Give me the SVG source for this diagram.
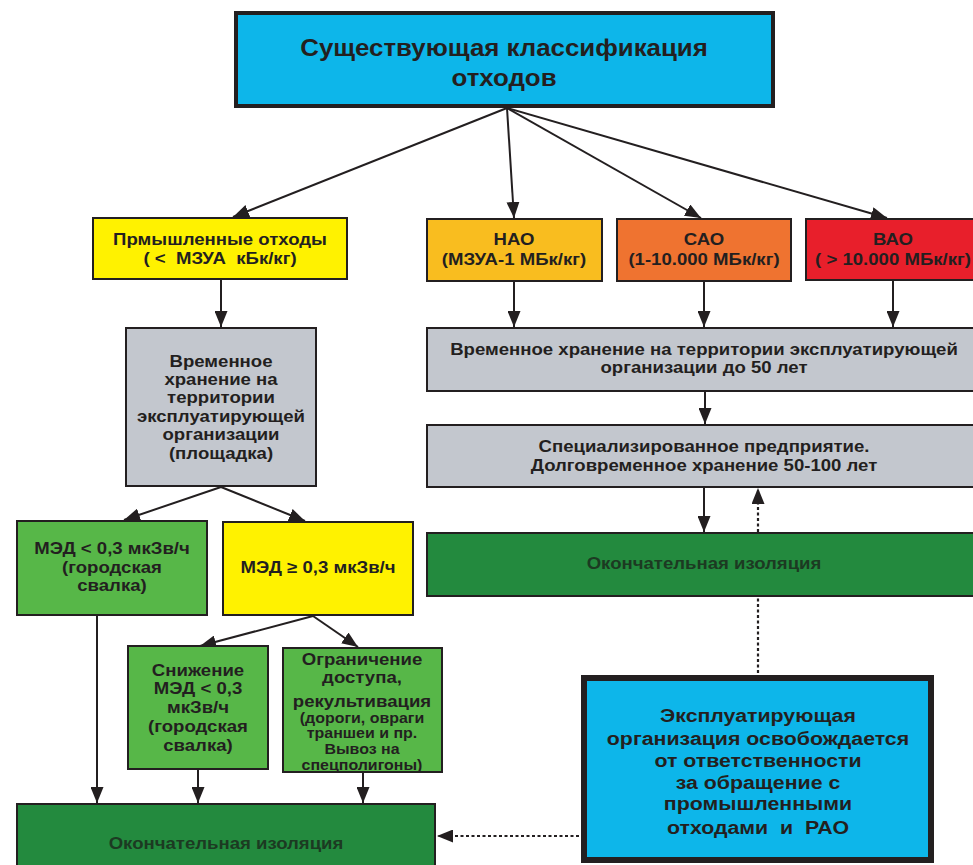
<svg xmlns="http://www.w3.org/2000/svg" width="973" height="865" viewBox="0 0 973 865">
  <defs>
    <style>
      .box { stroke: #231f20; stroke-width: 2; }
      .t { font-family: "Liberation Sans", Arial, sans-serif; font-weight: bold; fill: #231f20; text-anchor: middle; white-space: pre; }
      .n { font-size: 16.3px; }
      .s { font-size: 14px; }
      .b { font-size: 18.7px; }
      .h { font-size: 23.5px; }
      .tg { fill: #1c3a22; }
      .line { stroke: #231f20; stroke-width: 2; fill: none; }
      .dash { stroke: #231f20; stroke-width: 2.2; fill: none; stroke-dasharray: 3 2.5; }
      .blue { fill: #0db6ea; }
      .yellow { fill: #fff200; }
      .amber { fill: #f9bd1f; }
      .orange { fill: #ef7330; }
      .red { fill: #e81f2b; }
      .gray { fill: #c3c7ce; }
      .lgreen { fill: #57b748; }
      .dgreen { fill: #238a3e; }
    </style>
    <marker id="arrow" markerUnits="userSpaceOnUse" markerWidth="17" markerHeight="13" refX="16" refY="6.5" orient="auto">
      <path d="M0,0 L16,6.5 L0,13 Z" fill="#231f20"/>
    </marker>
  </defs>

  <rect width="973" height="865" fill="#ffffff"/>

  <!-- connectors -->
  <g id="connectors">
    <!-- from the classification box -->
    <line class="line" x1="507" y1="108" x2="233" y2="217" marker-end="url(#arrow)"/>
    <line class="line" x1="507" y1="108" x2="514" y2="218" marker-end="url(#arrow)"/>
    <line class="line" x1="507" y1="108" x2="701" y2="218" marker-end="url(#arrow)"/>
    <line class="line" x1="507" y1="108" x2="887" y2="218" marker-end="url(#arrow)"/>
    <!-- industrial branch -->
    <line class="line" x1="221" y1="280" x2="221" y2="327" marker-end="url(#arrow)"/>
    <line class="line" x1="221" y1="487" x2="124" y2="520" marker-end="url(#arrow)"/>
    <line class="line" x1="221" y1="487" x2="305" y2="521" marker-end="url(#arrow)"/>
    <line class="line" x1="313" y1="616" x2="200" y2="646" marker-end="url(#arrow)"/>
    <line class="line" x1="313" y1="616" x2="358" y2="647" marker-end="url(#arrow)"/>
    <line class="line" x1="97" y1="615" x2="97" y2="803" marker-end="url(#arrow)"/>
    <line class="line" x1="198" y1="770" x2="198" y2="803" marker-end="url(#arrow)"/>
    <line class="line" x1="363" y1="773" x2="363" y2="803" marker-end="url(#arrow)"/>
    <!-- radioactive waste branch -->
    <line class="line" x1="514" y1="282" x2="514" y2="327" marker-end="url(#arrow)"/>
    <line class="line" x1="704" y1="282" x2="704" y2="327" marker-end="url(#arrow)"/>
    <line class="line" x1="893" y1="281" x2="893" y2="327" marker-end="url(#arrow)"/>
    <line class="line" x1="705" y1="392" x2="705" y2="424" marker-end="url(#arrow)"/>
    <line class="line" x1="704" y1="488" x2="704" y2="532" marker-end="url(#arrow)"/>
    <!-- release of responsibility -->
    <line class="dash" x1="758" y1="532" x2="758" y2="488" marker-end="url(#arrow)"/>
    <line class="dash" x1="758" y1="673" x2="758" y2="597"/>
    <line class="dash" x1="579" y1="836" x2="437" y2="836" marker-end="url(#arrow)"/>
  </g>

  <g id="classification">
    <rect class="blue" x="236" y="13" width="537" height="93" stroke="#231f20" stroke-width="4"/>
    <text class="t h" transform="translate(504 56) scale(1.1 1)">Существующая классификация</text>
    <text class="t h" transform="translate(504 86) scale(1.1 1)">отходов</text>
  </g>

  <g id="industrial">
    <rect class="box yellow" x="93" y="218" width="254" height="61"/>
    <text class="t n" transform="translate(220 245) scale(1.14 1)">Прмышленные отходы</text>
    <text class="t n" xml:space="preserve" transform="translate(220 264) scale(1.14 1)">( &lt;  МЗУА  кБк/кг)</text>
  </g>

  <g id="nao">
    <rect class="box amber" x="427" y="219" width="175" height="62"/>
    <text class="t n" transform="translate(514 245) scale(1.14 1)">НАО</text>
    <text class="t n" transform="translate(514 265) scale(1.14 1)">(МЗУА-1 МБк/кг)</text>
  </g>

  <g id="sao">
    <rect class="box orange" x="617" y="219" width="174" height="62"/>
    <text class="t n" transform="translate(704 245) scale(1.14 1)">САО</text>
    <text class="t n" transform="translate(704 265) scale(1.14 1)">(1-10.000 МБк/кг)</text>
  </g>

  <g id="vao">
    <rect class="box red" x="806" y="219" width="180" height="61"/>
    <text class="t n" transform="translate(893 245) scale(1.14 1)">ВАО</text>
    <text class="t n" transform="translate(893 265) scale(1.14 1)">( &gt; 10.000 МБк/кг)</text>
  </g>

  <g id="site-storage">
    <rect class="box gray" x="126" y="328" width="190" height="158"/>
    <text class="t n" transform="translate(221 367) scale(1.14 1)">Временное</text>
    <text class="t n" transform="translate(221 385) scale(1.14 1)">хранение на</text>
    <text class="t n" transform="translate(221 403) scale(1.14 1)">территории</text>
    <text class="t n" transform="translate(221 422) scale(1.14 1)">эксплуатирующей</text>
    <text class="t n" transform="translate(221 440) scale(1.14 1)">организации</text>
    <text class="t n" transform="translate(221 459) scale(1.14 1)">(площадка)</text>
  </g>

  <g id="operator-storage">
    <rect class="box gray" x="427" y="328" width="556" height="63"/>
    <text class="t n" transform="translate(704 355) scale(1.14 1)">Временное хранение на территории эксплуатирующей</text>
    <text class="t n" transform="translate(704 373) scale(1.14 1)">организации до 50 лет</text>
  </g>

  <g id="specialized-storage">
    <rect class="box gray" x="427" y="425" width="556" height="62"/>
    <text class="t n" transform="translate(704 452) scale(1.14 1)">Специализированное предприятие.</text>
    <text class="t n" transform="translate(704 471) scale(1.14 1)">Долговременное хранение 50-100 лет</text>
  </g>

  <g id="final-isolation-rao">
    <rect class="box dgreen" x="427" y="533" width="556" height="63"/>
    <text class="t n tg" transform="translate(704 569) scale(1.14 1)">Окончательная изоляция</text>
  </g>

  <g id="low-dose">
    <rect class="box lgreen" x="17" y="521" width="190" height="94"/>
    <text class="t n" transform="translate(112 554) scale(1.14 1)">МЭД &lt; 0,3 мкЗв/ч</text>
    <text class="t n" transform="translate(112 573) scale(1.14 1)">(городская</text>
    <text class="t n" transform="translate(112 591) scale(1.14 1)">свалка)</text>
  </g>

  <g id="high-dose">
    <rect class="box yellow" x="223" y="522" width="190" height="93"/>
    <text class="t n" transform="translate(318 573) scale(1.14 1)">МЭД ≥ 0,3 мкЗв/ч</text>
  </g>

  <g id="dose-reduction">
    <rect class="box lgreen" x="128" y="646" width="140" height="123"/>
    <text class="t n" transform="translate(198 676) scale(1.14 1)">Снижение</text>
    <text class="t n" transform="translate(198 694) scale(1.14 1)">МЭД &lt; 0,3</text>
    <text class="t n" transform="translate(198 713) scale(1.14 1)">мкЗв/ч</text>
    <text class="t n" transform="translate(198 732) scale(1.14 1)">(городская</text>
    <text class="t n" transform="translate(198 751) scale(1.14 1)">свалка)</text>
  </g>

  <g id="access-restriction">
    <rect class="box lgreen" x="283" y="648" width="159" height="124"/>
    <text class="t n" transform="translate(362 665) scale(1.14 1)">Ограничение</text>
    <text class="t n" transform="translate(362 683) scale(1.14 1)">доступа,</text>
    <text class="t n" transform="translate(362 707) scale(1.14 1)">рекультивация</text>
    <text class="t s" transform="translate(362 723) scale(1.14 1)">(дороги, овраги</text>
    <text class="t s" transform="translate(362 738) scale(1.14 1)">траншеи и пр.</text>
    <text class="t s" transform="translate(362 754) scale(1.14 1)">Вывоз на</text>
    <text class="t s" transform="translate(362 770) scale(1.14 1)">спецполигоны)</text>
  </g>

  <g id="final-isolation-industrial">
    <rect class="box dgreen" x="17" y="804" width="418" height="66"/>
    <text class="t n tg" transform="translate(226 849) scale(1.14 1)">Окончательная изоляция</text>
  </g>

  <g id="release">
    <rect class="blue" x="584" y="678" width="347" height="182" stroke="#231f20" stroke-width="6"/>
    <text class="t b" transform="translate(758 722) scale(1.14 1)">Эксплуатирующая</text>
    <text class="t b" transform="translate(758 745) scale(1.14 1)">организация освобождается</text>
    <text class="t b" transform="translate(758 767) scale(1.14 1)">от ответственности</text>
    <text class="t b" transform="translate(758 789) scale(1.14 1)">за обращение с</text>
    <text class="t b" transform="translate(758 810) scale(1.14 1)">промышленными</text>
    <text class="t b" xml:space="preserve" transform="translate(758 834) scale(1.14 1)">отходами  и  РАО</text>
  </g>
</svg>
